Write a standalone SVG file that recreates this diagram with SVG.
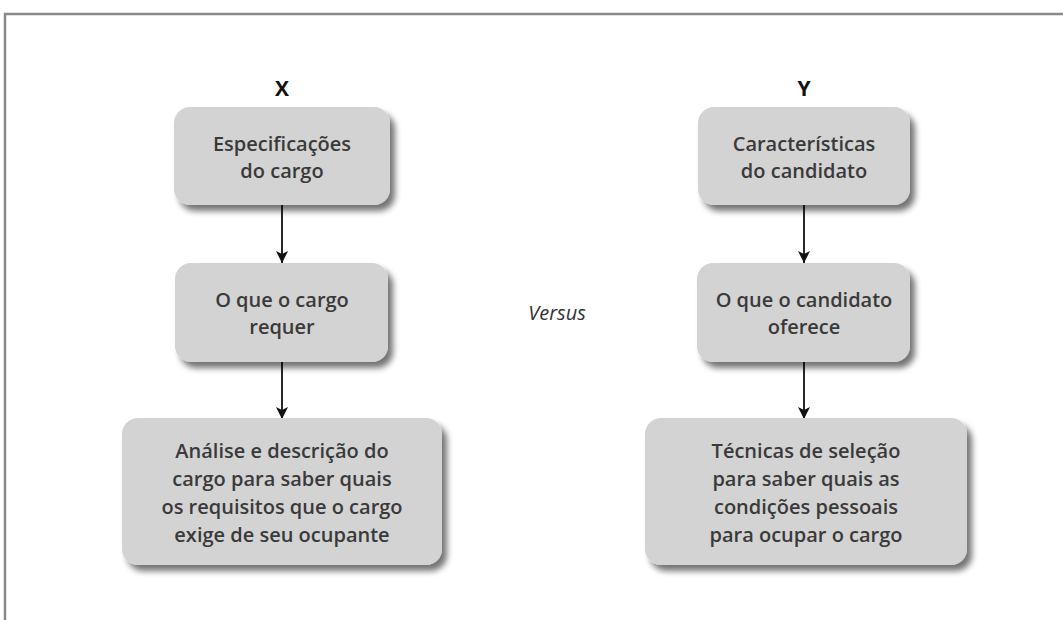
<svg xmlns="http://www.w3.org/2000/svg" width="1063" height="620" viewBox="0 0 1063 620">
<defs>
<filter id="sh" x="-10%" y="-10%" width="130%" height="140%">
<feGaussianBlur in="SourceAlpha" stdDeviation="3"/>
<feOffset dx="5" dy="6" result="b"/>
<feComponentTransfer><feFuncA type="linear" slope="0.55"/></feComponentTransfer>
<feMerge><feMergeNode/><feMergeNode in="SourceGraphic"/></feMerge>
</filter>
<marker id="arr" viewBox="0 0 12 12" refX="12" refY="6" markerWidth="12" markerHeight="12" markerUnits="userSpaceOnUse" orient="auto">
<path d="M0,0 L12,6 L0,12 L3,6 Z" fill="#111"/>
</marker>
</defs>
<style>
.box{fill:#d3d3d3;filter:url(#sh)}
.t{font-family:"Open Sans","Noto Sans",sans-serif;font-size:20px;font-weight:600;fill:#3a3a3a;text-anchor:middle}
.h{font-family:"Open Sans","Noto Sans",sans-serif;font-size:21px;font-weight:bold;fill:#111;text-anchor:middle}
.c{stroke:#111;stroke-width:1.8;fill:none;marker-end:url(#arr)}
</style>
<rect width="1063" height="620" fill="#fff"/>
<path d="M5,620 V14 H1063" fill="none" stroke="#888" stroke-width="2.5"/>
<text class="h" x="282" y="96">X</text>
<text class="h" x="804" y="96">Y</text>
<text x="557" y="320" font-family="'Open Sans','Noto Sans',sans-serif" font-size="20" font-style="italic" fill="#333" text-anchor="middle">Versus</text>
<g id="connectors">
<line class="c" x1="282" y1="205" x2="282" y2="263"/>
<line class="c" x1="282" y1="362" x2="282" y2="419"/>
<line class="c" x1="804" y1="205" x2="804" y2="263"/>
<line class="c" x1="804" y1="362" x2="804" y2="419"/>
</g>
<g id="x1"><rect class="box" x="174" y="107" width="216" height="98" rx="16"/>
<text class="t" x="282" y="151">Especificações</text><text class="t" x="282" y="178">do cargo</text></g>
<g id="x2"><rect class="box" x="175" y="263" width="213" height="99" rx="16"/>
<text class="t" x="282" y="307">O que o cargo</text><text class="t" x="282" y="334">requer</text></g>
<g id="x3"><rect class="box" x="122" y="418" width="320" height="147" rx="16"/>
<text class="t" x="282" y="458">Análise e descrição do</text><text class="t" x="282" y="486">cargo para saber quais</text><text class="t" x="282" y="514">os requisitos que o cargo</text><text class="t" x="282" y="542">exige de seu ocupante</text></g>
<g id="y1"><rect class="box" x="698" y="107" width="212" height="98" rx="16"/>
<text class="t" x="804" y="151">Características</text><text class="t" x="804" y="178">do candidato</text></g>
<g id="y2"><rect class="box" x="697" y="263" width="213" height="99" rx="16"/>
<text class="t" x="804" y="307">O que o candidato</text><text class="t" x="804" y="334">oferece</text></g>
<g id="y3"><rect class="box" x="645" y="418" width="322" height="147" rx="16"/>
<text class="t" x="806" y="458">Técnicas de seleção</text><text class="t" x="806" y="486">para saber quais as</text><text class="t" x="806" y="514">condições pessoais</text><text class="t" x="806" y="542">para ocupar o cargo</text></g>
</svg>
